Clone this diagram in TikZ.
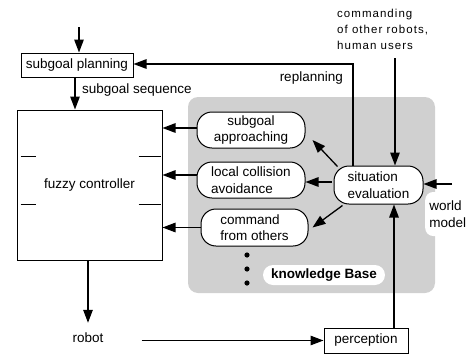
\documentclass[tikz,border=0pt]{standalone}
\usepackage{fontspec}
\setmainfont{Liberation Sans}
\usetikzlibrary{arrows.meta}
\definecolor{kbgray}{RGB}{208,208,208}

\begin{document}
\begin{tikzpicture}[x=1pt,y=-1pt,
  every node/.style={font=\fontsize{13.5}{16.5}\selectfont},
  box/.style={draw,line width=1pt,inner sep=0pt},
  pill/.style={draw,line width=1pt,fill=white,rounded corners=15pt,inner sep=0pt},
  arr/.style={line width=1.3pt,-{Triangle[length=13pt,width=9.5pt]}},
  tick/.style={line width=1pt}]
\useasboundingbox (0,0) rectangle (475,354);

% knowledge base area
\fill[kbgray,rounded corners=10pt] (188,97) rectangle (435,293);

% main blocks
\node[box,minimum width=112pt,minimum height=24pt] (sp) at (77,65) {subgoal planning};
\node[box,minimum width=145pt,minimum height=150pt] (fc) at (89.5,185) {fuzzy controller};
\node[pill,align=center,minimum width=108pt,minimum height=36pt] (sa) at (251,130) {subgoal\\approaching};
\node[pill,align=left,minimum width=108pt,minimum height=36pt] (lca) at (251,180) {local collision\\avoidance};
\node[pill,align=left,minimum width=107pt,minimum height=37pt] (cfo) at (254.5,227.5) {command\\from others};
\node[pill,align=left,minimum width=89pt,minimum height=38pt] (sit) at (378.5,185) {situation\\evaluation};
\node[fill=white,rounded corners=8pt,align=left,inner sep=0pt,minimum height=44pt,minimum width=45pt,anchor=west] (wm) at (425,214) {world\\model};
\node[fill=white,rounded corners=10pt,minimum width=122pt,minimum height=20pt,inner sep=0pt,font={\fontsize{13.5}{16.5}\selectfont\bfseries}] (kb) at (324,275) {knowledge Base};
\node[minimum height=30pt,inner sep=0pt] (robot) at (88,338) {robot};
\node[box,minimum width=84pt,minimum height=25pt] (pc) at (366,340.5) {perception};

% labels
\node[anchor=west,align=left,inner sep=0pt,font={\fontsize{11.5}{16}\selectfont\addfontfeature{LetterSpace=9}}] (cmd) at (337,29.5) {commanding\\of other robots,\\human users};
\node[anchor=east,inner sep=0pt] (rp) at (343,78) {replanning};
\node[anchor=west,inner sep=0pt] (seq) at (82,90) {subgoal sequence};

% continuation dots
\fill (247,255) circle (2.6);
\fill (247,269) circle (2.6);
\fill (247,283) circle (2.6);

% ticks inside the fuzzy controller
\draw[tick] ([shift={(4,-29)}]fc.west) -- ++(15,0);
\draw[tick] ([shift={(4,19)}]fc.west) -- ++(15,0);
\draw[tick] ([shift={(-24,-29)}]fc.east) -- ++(22,0);
\draw[tick] ([shift={(-24,19)}]fc.east) -- ++(22,0);

% connectors
\coordinate (spin) at (79,27);
\draw[arr] (spin) -- (spin |- sp.north);
\draw[arr] ([xshift=-2pt]sp.south) -- ([xshift=-2pt]sp.south |- fc.north);
\draw[arr] ([yshift=2pt]sa.west) -- ([yshift=2pt]sa.west -| fc.east);
\draw[arr] ([yshift=5pt]lca.west) -- ([yshift=5pt]lca.west -| fc.east);
\draw[arr] (cfo.west) -- (cfo.west -| fc.east);
\draw[arr] ([xshift=-25.5pt]sit.north) |- ([yshift=1pt]sp.east);
\draw[arr] ([shift={(4,1)}]sit.north west) -- ([shift={(7,10)}]sa.east);
\draw[arr] ([shift={(-2,-3)}]sit.west) -- ([shift={(0,2)}]lca.east);
\draw[arr] ([shift={(9,1)}]sit.south west) -- ([shift={(4,0)}]cfo.east);
\coordinate (cmdfoot) at (395,58);
\draw[arr] (cmdfoot) -- (cmdfoot |- sit.north);
\coordinate (wmfoot) at (452,184);
\draw[arr] (wmfoot) -- (wmfoot -| sit.east);
\draw[arr] ([xshift=28pt]pc.north) -- ([xshift=28pt]pc.north |- sit.south);
\draw[arr] (fc.south -| robot.north) -- (robot.north);
\draw[arr] ([xshift=38pt]robot.east |- pc.west) -- (pc.west);
\end{tikzpicture}
\end{document}
